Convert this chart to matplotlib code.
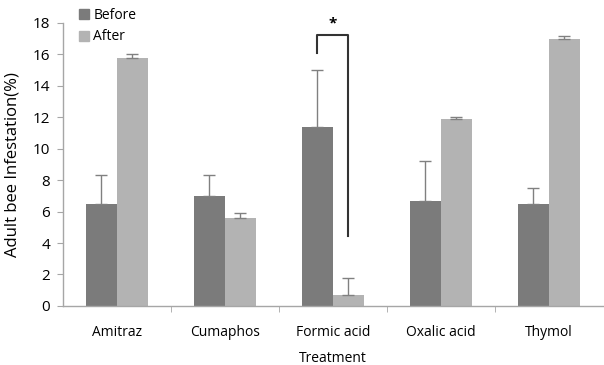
import numpy as np
import matplotlib.pyplot as plt
import matplotlib as mpl
from matplotlib.lines import Line2D

mpl.rcParams['font.family'] = ['Open Sans', 'DejaVu Sans']
mpl.rcParams['font.size'] = 10

treatments = ['Amitraz', 'Cumaphos', 'Formic acid', 'Oxalic acid', 'Thymol']
before = [6.5, 7.0, 11.4, 6.7, 6.5]
before_err = [1.8, 1.35, 3.6, 2.55, 1.0]
after = [15.75, 5.6, 0.7, 11.9, 16.95]
after_err = [0.3, 0.3, 1.1, 0.1, 0.2]

c_before = '#7b7b7b'
c_after = '#b3b3b3'
c_axis = '#a6a6a6'

fig = plt.figure(figsize=(6.04, 3.65), dpi=100)
ax = fig.add_axes([0.104, 0.162, 0.894, 0.775])

x = np.arange(len(treatments))
w = 0.285
ekw = dict(ecolor='#808080', elinewidth=1, capsize=4, capthick=1)
ax.bar(x - w/2, before, w, color=c_before, yerr=[np.zeros(5), before_err],
       error_kw=ekw, label='Before')
ax.bar(x + w/2, after, w, color=c_after, yerr=[np.zeros(5), after_err],
       error_kw=ekw, label='After')

# significance bracket for formic acid
i = 2
ax.plot([i - w/2, i - w/2, i + w/2, i + w/2], [16.1, 17.25, 17.25, 4.45],
        color='#333333', lw=1.5, clip_on=False)
ax.text(i, 17.55, '*', ha='center', va='bottom', fontsize=11,
        fontweight='bold', clip_on=False)

ax.set_xlim(-0.5, len(treatments) - 0.5)
ax.set_ylim(0, 18)
ax.set_yticks(np.arange(0, 19, 2))
ax.set_xticks(x)
ax.set_xticklabels(treatments)
ax.set_xticks(np.arange(-0.5, len(treatments), 1)[1:-1], minor=True)
ax.tick_params(axis='x', which='major', length=0, pad=14)
ax.tick_params(axis='x', which='minor', length=4, color=c_axis, direction='out')
ax.tick_params(axis='y', length=4, color=c_axis, direction='out', pad=5,
               labelsize=11)

for s in ['top', 'right']:
    ax.spines[s].set_visible(False)
for s in ['left', 'bottom']:
    ax.spines[s].set_color(c_axis)
    ax.spines[s].set_linewidth(1)

ax.set_xlabel('Treatment', labelpad=8)
ax.set_ylabel('Adult bee Infestation(%)', labelpad=9, fontsize=12)

handles = [Line2D([], [], marker='s', ls='', color=c_before, markersize=7),
           Line2D([], [], marker='s', ls='', color=c_after, markersize=7)]
fig.legend(handles, ['Before', 'After'], loc='upper left',
           bbox_to_anchor=(0.104, 1.012), frameon=False, handletextpad=0.1,
           labelspacing=0.45, handlelength=1.2)

fig.savefig('out.png', dpi=100)
